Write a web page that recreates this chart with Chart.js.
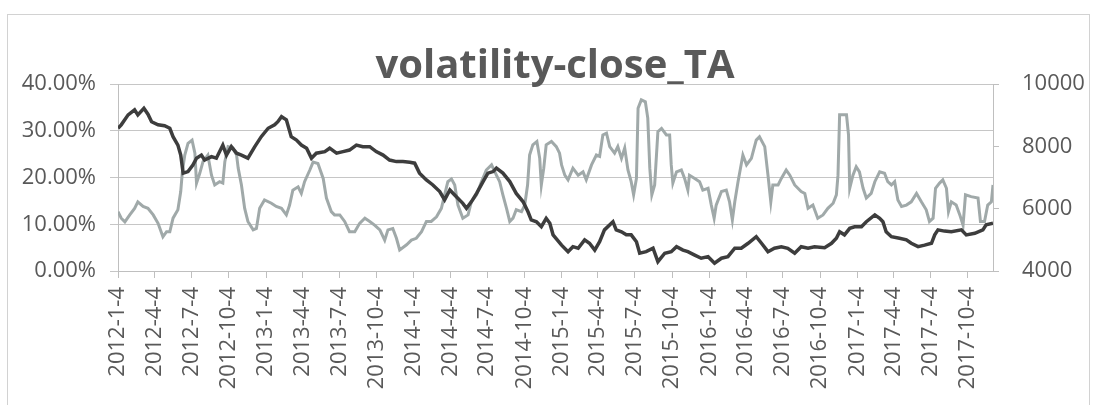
<!DOCTYPE html>
<html><head><meta charset="utf-8">
<script src="https://cdn.jsdelivr.net/npm/chart.js@4.4.1/dist/chart.umd.min.js"></script>
<style>html,body{margin:0;padding:0;background:#fff;}canvas{display:block;}</style>
</head><body>
<canvas id="c" width="1093" height="405"></canvas>
<script>
const chartTitle = 'volatility-close_TA';
const tickLabels = ['2012-1-4','2012-4-4','2012-7-4','2012-10-4','2013-1-4','2013-4-4','2013-7-4','2013-10-4',
  '2014-1-4','2014-4-4','2014-7-4','2014-10-4','2015-1-4','2015-4-4','2015-7-4','2015-10-4',
  '2016-1-4','2016-4-4','2016-7-4','2016-10-4','2017-1-4','2017-4-4','2017-7-4','2017-10-4'];
const volTicks = [0, 10, 20, 30, 40];
const closeTicks = [4000, 6000, 8000, 10000];
const lastDay = 2162; // days after 2012-1-4 of the last observation

// TA close price (right axis): days after 2012-1-4, price
const closeDays = [0,8,25,41,49,64,74,83,99,115,128,136,148,155,161,173,185,194,206,214,231,243,259,268,280,293,305,321,338,354,371,387,395,404,416,428,441,453,466,478,490,511,523,540,556,572,589,605,622,638,655,671,688,704,721,733,745,762,778,795,807,820,836,852,861,873,886,902,914,927,935,951,968,984,1001,1013,1021,1034,1046,1058,1067,1075,1096,1112,1124,1137,1153,1165,1178,1190,1202,1223,1231,1244,1256,1268,1281,1289,1305,1322,1334,1351,1367,1380,1396,1408,1425,1441,1458,1474,1491,1507,1524,1540,1557,1577,1590,1606,1622,1639,1655,1672,1688,1705,1721,1746,1763,1775,1783,1795,1808,1820,1837,1849,1870,1882,1890,1898,1911,1931,1948,1960,1977,1993,2010,2018,2026,2042,2059,2084,2096,2117,2137,2145,2162];
const closePrice = [8580,8690,9010,9170,9010,9220,9030,8790,8690,8660,8580,8310,8040,7720,7140,7190,7400,7620,7720,7560,7670,7620,8040,7720,7990,7780,7720,7620,7990,8310,8580,8690,8790,8950,8850,8310,8200,8040,7940,7620,7780,7830,7940,7780,7830,7880,8040,7990,7990,7830,7720,7560,7510,7510,7490,7460,7140,6920,6760,6550,6280,6600,6380,6170,6010,6220,6490,6870,7140,7190,7300,7140,6870,6490,6220,5900,5640,5580,5420,5690,5530,5160,4830,4620,4780,4730,5000,4890,4670,4940,5320,5580,5320,5260,5160,5160,4940,4570,4620,4730,4300,4570,4620,4780,4670,4620,4510,4410,4460,4250,4410,4460,4730,4730,4890,5100,4890,4620,4730,4780,4730,4570,4780,4730,4780,4750,4890,5050,5260,5160,5370,5420,5420,5580,5800,5690,5580,5260,5100,5050,5000,4890,4780,4830,4890,5160,5320,5280,5260,5320,5160,5210,5320,5480,5530];

// volatility (left axis, %): days after 2012-1-4, value
const volDays = [0,8,17,29,41,49,62,74,87,99,111,120,128,136,148,155,159,165,173,183,190,194,202,210,222,231,239,251,259,264,272,284,293,297,305,313,321,334,342,350,362,379,391,404,416,424,432,445,453,461,474,482,494,507,515,527,535,548,560,572,585,597,610,622,634,647,659,667,679,688,696,713,725,737,750,762,774,787,799,807,815,824,832,840,852,865,873,886,898,910,923,935,943,951,960,968,976,984,997,1005,1012,1017,1025,1035,1042,1046,1052,1058,1071,1083,1091,1096,1104,1112,1124,1137,1149,1157,1170,1182,1190,1198,1207,1215,1227,1235,1244,1252,1260,1268,1274,1281,1285,1293,1303,1309,1314,1319,1326,1334,1343,1355,1363,1367,1371,1380,1392,1400,1408,1412,1425,1437,1445,1458,1466,1473,1478,1491,1503,1511,1518,1524,1532,1544,1553,1565,1577,1585,1598,1606,1613,1618,1631,1639,1651,1660,1672,1688,1697,1705,1717,1729,1742,1754,1767,1775,1779,1783,1800,1805,1808,1816,1824,1832,1841,1849,1861,1870,1882,1894,1902,1911,1919,1927,1936,1948,1960,1973,1985,1997,2005,2014,2020,2030,2038,2047,2052,2059,2071,2080,2088,2094,2108,2125,2131,2141,2149,2158,2162];
const volPct = [12.7,11.3,10.5,12.0,13.4,14.8,13.8,13.4,12.0,10.2,7.3,8.4,8.4,11.3,13.1,17.0,21.2,24.8,27.3,28.0,25.2,18.8,20.9,23.4,24.8,20.5,18.4,19.1,18.8,23.4,26.6,26.3,24.8,22.0,18.4,13.4,10.6,8.8,9.1,13.4,15.2,14.5,13.8,13.4,12.0,14.1,17.3,18.0,16.6,19.1,21.6,23.3,23.0,19.8,15.6,12.7,12.0,12.0,10.6,8.4,8.4,10.2,11.3,10.6,9.8,8.8,6.6,8.8,9.1,7.0,4.5,5.6,6.6,7.0,8.4,10.6,10.6,11.6,13.4,16.3,19.1,19.7,18.4,14.1,11.3,12.0,14.8,16.3,19.1,21.6,22.7,20.5,19.1,16.3,13.4,10.6,11.3,13.1,12.7,14.1,18.4,24.8,27.0,27.7,24.1,18.4,22.0,27.0,27.7,26.6,25.2,22.7,20.5,19.5,22.0,20.5,21.2,19.5,22.7,24.8,24.5,29.1,29.5,26.6,25.2,26.6,24.1,26.3,21.6,19.1,16.3,19.8,34.8,36.6,36.2,32.7,22.0,16.3,18.4,29.8,30.5,29.1,29.1,22.7,18.8,21.2,21.6,19.8,17.3,20.5,19.8,19.1,17.3,17.7,14.1,11.3,14.1,17.0,17.3,14.8,10.9,14.8,19.1,24.8,22.7,24.1,28.0,28.7,26.6,20.5,14.8,18.4,18.4,19.8,21.6,20.5,18.4,17.0,16.6,13.4,14.1,11.3,12.0,13.4,14.5,16.3,20.5,33.4,33.4,29.1,17.7,20.5,22.3,21.2,17.7,15.6,16.6,19.1,21.2,20.9,19.1,18.4,19.1,15.2,13.8,14.1,14.8,16.6,14.8,13.1,10.6,11.3,17.7,18.8,19.5,17.7,12.7,14.8,14.1,12.0,9.8,16.3,15.9,15.6,10.6,10.6,14.1,14.8,18.4];

function dayOffset(s) {
  const [y, m, d] = s.split('-').map(Number);
  return Math.round((Date.UTC(y, m - 1, d) - Date.UTC(2012, 0, 4)) / 86400000);
}
const tickDays = tickLabels.map(dayOffset);
const pairs = (xs, ys) => xs.map((x, i) => ({ x: x, y: ys[i] }));

const TXT = '#595959';
const AXIS = '#bfbfbf';
const FONT = 'Open Sans';

const framePlugin = {
  id: 'frame',
  beforeDraw(chart) {
    const ctx = chart.ctx;
    ctx.save();
    ctx.fillStyle = '#ffffff';
    ctx.fillRect(0, 0, chart.width, chart.height);
    ctx.strokeStyle = '#d2d2d2';
    ctx.lineWidth = 1;
    ctx.strokeRect(7.5, 14.5, 1082, 400);
    ctx.restore();
  }
};

new Chart(document.getElementById('c'), {
  type: 'line',
  data: {
    datasets: [
      { label: 'close', data: pairs(closeDays, closePrice), yAxisID: 'y2',
        borderColor: '#3d3d3d', borderWidth: 3.5, pointRadius: 0, tension: 0, fill: false },
      { label: 'volatility', data: pairs(volDays, volPct), yAxisID: 'y',
        borderColor: '#a0a9a9', borderWidth: 3, pointRadius: 0, tension: 0, fill: false }
    ]
  },
  options: {
    responsive: false,
    animation: false,
    layout: { padding: { top: 14, left: 17, right: 0, bottom: 0 } },
    plugins: {
      legend: { display: false },
      tooltip: { enabled: false },
      title: {
        display: true, text: chartTitle, color: TXT,
        font: { family: FONT, size: 40, weight: 'bold', lineHeight: 1 },
        padding: { top: 33, bottom: -3 }
      }
    },
    scales: {
      x: {
        type: 'linear', min: 0, max: lastDay,
        afterBuildTicks(s) { s.ticks = tickDays.map(v => ({ value: v })); },
        afterFit(s) { s.height = 134; },
        ticks: {
          autoSkip: false, minRotation: 90, maxRotation: 90, padding: 9,
          color: TXT, font: { family: FONT, size: 22 },
          callback: (v, i) => tickLabels[i]
        },
        grid: { drawOnChartArea: false, drawTicks: true, tickLength: 7, color: AXIS },
        border: { display: true, color: AXIS }
      },
      y: {
        position: 'left', min: 0, max: 40,
        afterBuildTicks(s) { s.ticks = volTicks.map(v => ({ value: v })); },
        afterFit(s) { s.width = 101; },
        ticks: { color: TXT, font: { family: FONT, size: 22 }, padding: 14,
          callback: v => v.toFixed(2) + '%' },
        grid: { color: '#c6c6c6', tickLength: 8 },
        border: { display: true, color: AXIS }
      },
      y2: {
        position: 'right', min: 4000, max: 10000,
        afterBuildTicks(s) { s.ticks = closeTicks.map(v => ({ value: v })); },
        afterFit(s) { s.width = 100; },
        ticks: { color: TXT, font: { family: FONT, size: 22 }, padding: 23,
          callback: v => String(v) },
        grid: { drawOnChartArea: false, tickLength: 6, color: AXIS },
        border: { display: true, color: AXIS }
      }
    }
  },
  plugins: [framePlugin]
});
</script>
</body></html>
